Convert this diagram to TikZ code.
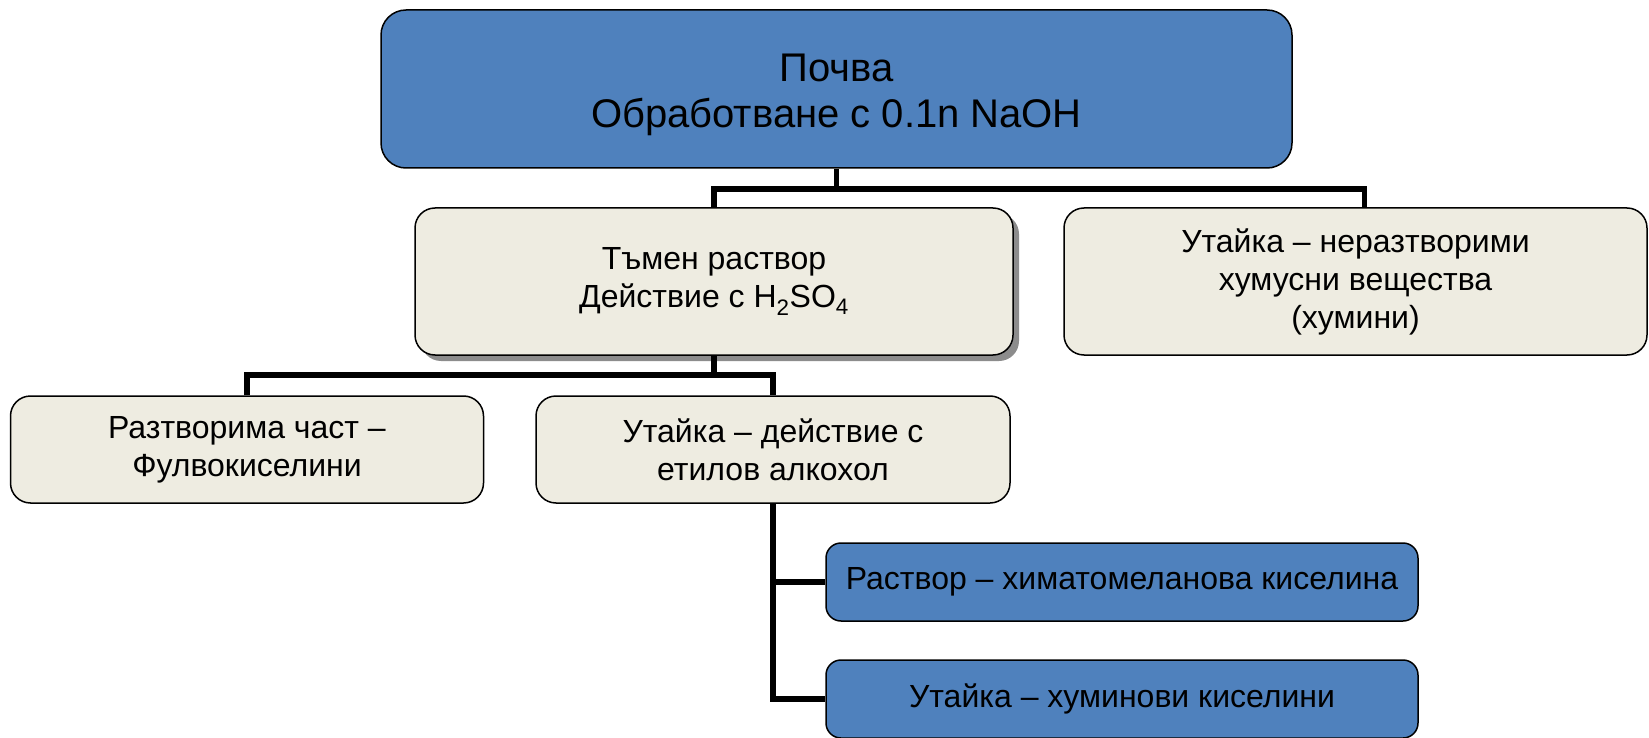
\documentclass[tikz,border=0pt]{standalone}
\usepackage{fontspec}
\setmainfont{Liberation Sans}
\usetikzlibrary{shadows}
\definecolor{boxblue}{HTML}{4F81BD}
\definecolor{boxbeige}{HTML}{EEECE1}
\begin{document}
\begin{tikzpicture}[x=1pt,y=-1pt,
  box/.style={draw=black, line width=1.5pt, rounded corners=20pt, align=center, inner sep=0pt},
  bluebox/.style={box, fill=boxblue},
  beigebox/.style={box, fill=boxbeige},
  bigtext/.style={font=\fontsize{40}{46}\selectfont},
  midtext/.style={font=\fontsize{32}{38}\selectfont},
  conn/.style={draw=black, line width=5.2pt}
]
\fill[white] (0,0) rectangle (1649,738);
\useasboundingbox (0,0) rectangle (1649,738);

\node[bluebox, bigtext, rounded corners=25pt, minimum width=911pt, minimum height=158pt] (top) at (836.5,89)
  {\raisebox{-6pt}[\height][\depth]{\parbox{900pt}{\centering Почва\\Обработване с 0.1n NaOH}}};
\node[beigebox, midtext, minimum width=598pt, minimum height=147pt,
  drop shadow={shadow xshift=6pt, shadow yshift=-6pt, fill=black!45, opacity=1}] (mid) at (714,281.5)
  {Тъмен раствор\\Действие с H\textsubscript{2}SO\textsubscript{4}};
\node[beigebox, midtext, minimum width=583pt, minimum height=147pt] (right) at (1355.5,281.5)
  {Утайка – неразтворими\\хумусни вещества\\(хумини)};
\node[beigebox, midtext, minimum width=473pt, minimum height=107pt] (left) at (247,449.5)
  {Разтворима част –\\Фулвокиселини};
\node[beigebox, midtext, minimum width=474pt, minimum height=107pt] (alc) at (773,449.5)
  {Утайка – действие с\\етилов алкохол};
\node[bluebox, midtext, rounded corners=15pt, minimum width=592pt, minimum height=78pt] (b1) at (1122,582)
  {Раствор – химатомеланова киселина};
\node[bluebox, midtext, rounded corners=15pt, minimum width=592pt, minimum height=78pt] (b2) at (1122,699)
  {Утайка – хуминови киселини};

\coordinate (bus1) at (836.5,189);
\coordinate (bus2) at (714,375);
\draw[conn] (top.south) -- (bus1);
\draw[conn] (mid.north) |- (bus1) -| ([xshift=9pt]right.north);
\draw[conn] (mid.south) -- (bus2);
\draw[conn] (left.north) |- (bus2) -| (alc.north);
\draw[conn] (alc.south) |- (b2.west);
\draw[conn] (b1.west) -| (alc.south);
\end{tikzpicture}
\end{document}
